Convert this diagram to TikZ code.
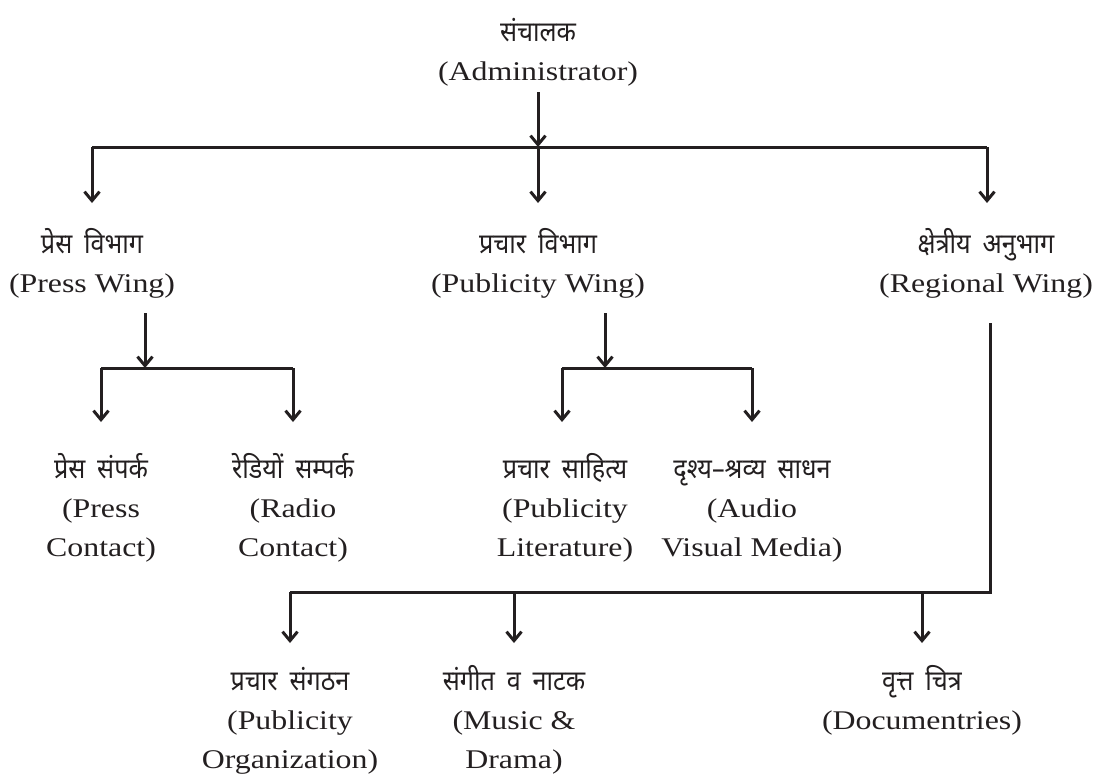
\documentclass[tikz,border=0pt]{standalone}
\usepackage{fontspec}
\setmainfont[FakeStretch=1.18]{Liberation Serif}
\newfontfamily\hinfont[Script=Devanagari,FakeStretch=0.9,WordSpace=1.8]{Noto Sans}
\usetikzlibrary{arrows.meta}
\definecolor{ink}{HTML}{231F20}
\newcommand\hi[1]{{\hinfont\fontsize{28}{39}\selectfont #1}}
\tikzset{
  lbl/.style={align=center, inner sep=0pt, anchor=base, text=ink, font=\fontsize{27}{39}\selectfont},
  ln/.style={line width=3pt, draw=ink},
  arr/.style={ln, -{Straight Barb[length=9pt,width=15pt]}},
}
\begin{document}
\begin{tikzpicture}[x=1pt,y=-1pt]
\useasboundingbox (0,0) rectangle (1095,774);
% nodes (anchor = baseline of last line)
\node[lbl] (admin) at (538,80) {\hi{संचालक}\\(Administrator)};
\node[lbl] (pressW) at (92,292) {\hi{प्रेस विभाग}\\(Press Wing)};
\node[lbl] (pubW) at (538,292) {\hi{प्रचार विभाग}\\(Publicity Wing)};
\node[lbl] (regW) at (986,292) {\hi{क्षेत्रीय अनुभाग}\\(Regional Wing)};
\node[lbl] (pc) at (101,556) {\hi{प्रेस संपर्क}\\(Press\\Contact)};
\node[lbl] (rc) at (293,556) {\hi{रेडियों सम्पर्क}\\(Radio\\Contact)};
\node[lbl] (pl) at (565,556) {\hi{प्रचार साहित्य}\\(Publicity\\Literature)};
\node[lbl] (av) at (752,556) {\hi{दृश्य–श्रव्य साधन}\\(Audio\\Visual Media)};
\node[lbl] (po) at (290,768) {\hi{प्रचार संगठन}\\(Publicity\\Organization)};
\node[lbl] (md) at (514,768) {\hi{संगीत व नाटक}\\(Music \&\\Drama)};
\node[lbl] (dc) at (922,729) {\hi{वृत्त चित्र}\\(Documentries)};
% junctions
\coordinate (j1) at (538,147);
\coordinate (j2) at (145,368);
\coordinate (j3) at (605,368);
\coordinate (j4) at (990,592);
\coordinate (e1) at (92,203);
\coordinate (e2) at (538,203);
\coordinate (e3) at (987,203);
% connectors
\draw[arr] (admin.south |- 538,92) -- (j1);
\draw[ln] (e1 |- j1) -- (e3 |- j1);
\draw[arr] (e1 |- j1) -- (e1);
\draw[arr] (j1) -- (e2);
\draw[arr] (e3 |- j1) -- (e3);
\draw[arr] (j2 |- 0,313) -- (j2);
\draw[ln] (j2 -| pc) -- (j2 -| rc);
\draw[arr] (j2 -| pc) -- (pc |- 0,422);
\draw[arr] (j2 -| rc) -- (rc |- 0,422);
\draw[arr] (j3 |- 0,313) -- (j3);
\draw[ln] (562,368) -- (j3 -| av);
\draw[arr] (562,368) -- (562,422);
\draw[arr] (j3 -| av) -- (av |- 0,422);
\draw[ln] (j4 |- 0,323) -- (j4) -- (j4 -| po);
\draw[arr] (j4 -| po) -- (po |- 0,643);
\draw[arr] (j4 -| md) -- (md |- 0,643);
\draw[arr] (j4 -| dc) -- (dc |- 0,643);
\end{tikzpicture}
\end{document}
